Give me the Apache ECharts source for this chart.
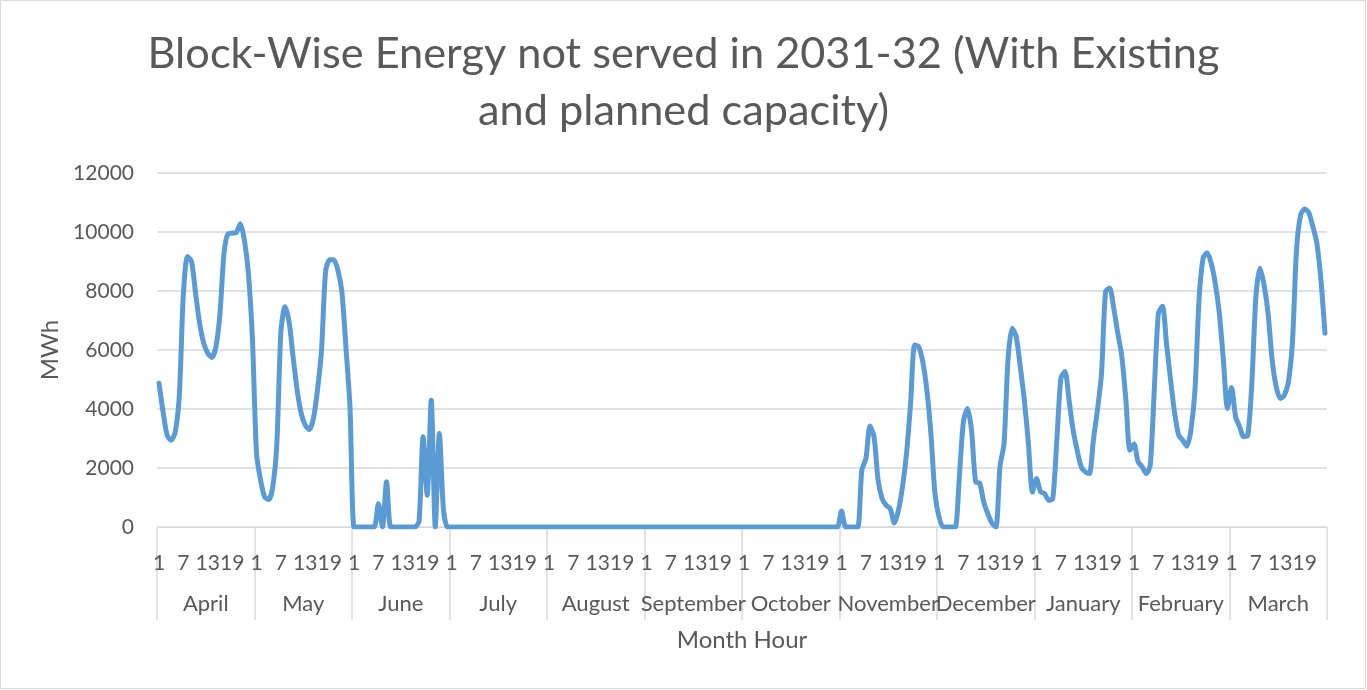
<!DOCTYPE html>
<html>
<head>
<meta charset="utf-8">
<script src="https://cdn.jsdelivr.net/npm/echarts@6/dist/echarts.min.js"></script>
<style>
html,body{margin:0;padding:0;background:#fff;}
#chart{width:1367px;height:690px;}
</style>
</head>
<body>
<div id="chart"></div>
<script>
// ---- data ----
const months = ['April','May','June','July','August','September','October','November','December','January','February','March'];
const hours = [1,2,3,4,5,6,7,8,9,10,11,12,13,14,15,16,17,18,19,20,21,22,23,24];
const yTicks = [0,2000,4000,6000,8000,10000,12000];

const april = [4870,3900,3110,2940,3230,4470,7920,9170,9000,7920,6900,6230,5890,5750,6110,7240,9280,9940,9960,9980,10280,9735,8600,6340];
const may = [2490,1585,1020,930,1360,2830,6620,7470,6960,5770,4640,3850,3450,3300,3680,4640,6000,8660,9060,9060,8720,7980,6110,4070];
const june = [0,0,0,0,0,0,790,0,1530,0,0,0,0,0,0,0,200,3060,1075,4300,0,3170,620,0];
const july = [0,0,0,0,0,0,0,0,0,0,0,0,0,0,0,0,0,0,0,0,0,0,0,0];
const august = [0,0,0,0,0,0,0,0,0,0,0,0,0,0,0,0,0,0,0,0,0,0,0,0];
const september = [0,0,0,0,0,0,0,0,0,0,0,0,0,0,0,0,0,0,0,0,0,0,0,0];
const october = [0,0,0,0,0,0,0,0,0,0,0,0,0,0,0,0,0,0,0,0,0,0,0,0];
const november = [540,0,0,0,0,1920,2320,3420,3060,1585,960,735,620,135,565,1360,2490,4190,6170,6110,5600,4640,3170,1130];
const december = [340,0,0,0,0,1700,3570,4020,3280,1530,1490,850,450,135,0,2040,2830,5720,6740,6450,5430,4300,2830,1190];
const january = [1640,1190,1130,905,960,2950,5040,5270,4300,3290,2600,2040,1870,1810,2950,3970,5210,7990,8100,7420,6570,5780,4300,2600];
const february = [2810,2210,2040,1810,2100,4700,7250,7480,6200,4980,3850,3110,2940,2740,3280,4640,7700,9110,9300,8940,8260,7240,5660,4020];
const march = [4730,3740,3400,3060,3110,4870,7810,8770,8210,7240,5660,4750,4360,4470,4920,6280,9400,10580,10780,10660,10190,9620,8380,6570];

const monthly = [april,may,june,july,august,september,october,november,december,january,february,march];
const hourCats = [];
const values = [];
monthly.forEach(function(arr){
  arr.forEach(function(v,i){ hourCats.push(String(hours[i])); values.push(v); });
});

const FONT = 'Lato';
const TXT = '#595959';
const GRID = '#d9d9d9';

const chart = echarts.init(document.getElementById('chart'), null, {renderer:'canvas'});
chart.setOption({
  animation:false,
  backgroundColor:'#fff',
  textStyle:{fontFamily:FONT},
  title:{
    text:'Block-Wise Energy not served in 2031-32 (With Existing\nand planned capacity)',
    left:'center', top:26, padding:0,
    textStyle:{fontFamily:FONT, fontSize:43.3, fontWeight:'normal', color:TXT, lineHeight:57, align:'center'}
  },
  graphic:[{
    type:'rect', shape:{x:0.5,y:0.5,width:1365,height:688},
    style:{fill:null, stroke:GRID, lineWidth:1}, silent:true
  }],
  grid:{left:157, right:40, top:173, bottom:163, containLabel:false},
  xAxis:[
    {
      type:'category', data:hourCats, boundaryGap:true, position:'bottom',
      axisLine:{show:true, lineStyle:{color:GRID, width:1}},
      axisTick:{show:false},
      axisLabel:{
        interval:function(i){ return i % 6 === 0; },
        fontFamily:FONT, fontSize:21, color:TXT, margin:26
      },
      splitLine:{show:false}
    },
    {
      type:'category', data:months, boundaryGap:true, position:'bottom',
      axisLine:{show:false},
      axisTick:{show:true, interval:0, length:93, lineStyle:{color:GRID, width:1.5}},
      axisLabel:{interval:0, fontFamily:FONT, fontSize:22, color:TXT, margin:66},
      name:'Month Hour', nameLocation:'middle', nameGap:101,
      nameTextStyle:{fontFamily:FONT, fontSize:24, color:TXT},
      splitLine:{show:false}
    }
  ],
  yAxis:{
    type:'value', min:yTicks[0], max:yTicks[yTicks.length-1], interval:2000,
    axisLine:{show:false}, axisTick:{show:false},
    axisLabel:{fontFamily:FONT, fontSize:21, color:TXT, margin:23, formatter:function(v){ return String(v); }},
    splitLine:{lineStyle:{color:GRID, width:1.5}},
    name:'MWh', nameLocation:'middle', nameGap:92, nameRotate:90,
    nameTextStyle:{fontFamily:FONT, fontSize:24, color:TXT}
  },
  series:[{
    type:'line', xAxisIndex:0, data:values,
    showSymbol:false, smooth:0.25,
    lineStyle:{color:'#5b9bd5', width:5, cap:'round', join:'round'},
    itemStyle:{color:'#5b9bd5'}
  }]
});
</script>
</body>
</html>
